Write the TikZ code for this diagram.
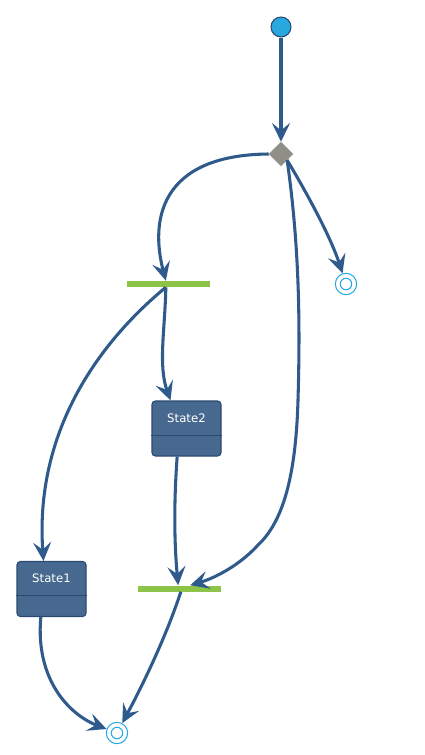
\documentclass[tikz,border=0pt]{standalone}
\usepackage{fontspec}
\setmainfont{DejaVu Sans}
\usepackage{tikz}
\usetikzlibrary{arrows.meta,calc,shapes.geometric}
\definecolor{flow}{HTML}{2F5B8C}
\definecolor{stfill}{HTML}{48698F}
\definecolor{stline}{HTML}{2C4A70}
\definecolor{startc}{HTML}{29A8E0}
\definecolor{choicec}{HTML}{8F8F87}
\definecolor{barc}{HTML}{8DC448}

\begin{document}
\begin{tikzpicture}[x=0.75pt,y=-0.75pt,
  flow/.style={draw=flow,line width=2.3pt,-{Stealth[length=14pt,width=13.5pt,inset=5.5pt]}},
  initst/.style={circle,fill=startc,draw=stline,line width=0.8pt,minimum size=15pt,inner sep=0pt},
  finalst/.style={circle,draw=startc,line width=0.8pt,minimum size=16pt,inner sep=0pt,
     path picture={\draw[startc,line width=0.8pt] (path picture bounding box.center) circle (4.3pt);}},
  choice/.style={diamond,fill=choicec,draw=choicec!80!white,minimum width=18pt,minimum height=18pt,inner sep=0pt},
  forkbar/.style={rectangle,fill=barc,minimum width=62pt,minimum height=4.5pt,inner sep=0pt},
  statebox/.style={rectangle,rounded corners=2.5pt,fill=stfill,draw=stline,line width=0.8pt,
     minimum width=51.75pt,minimum height=41.25pt,inner sep=0pt,text=white,
     font=\fontsize{8.8}{10}\selectfont,text height=7pt,text depth=16.75pt}]
  \useasboundingbox (0,0) rectangle (424,755);
  \node[initst] (init) at (281,27) {};
  \node[choice] (dec) at (281,154) {};
  \node[forkbar] (fork) at (168.5,284) {};
  \node[finalst] (end1) at (346,284) {};
  \node[statebox] (s2) at (186.5,428.5) {State2};
  \node[statebox] (s1) at (51.5,589) {State1};
  \node[forkbar] (join) at (179.5,588.5) {};
  \node[finalst] (end2) at (117,733) {};
  \draw[stline,line width=0.8pt] ($(s2.north west)!0.62!(s2.south west)$)--($(s2.north east)!0.62!(s2.south east)$);
  \draw[stline,line width=0.8pt] ($(s1.north west)!0.62!(s1.south west)$)--($(s1.north east)!0.62!(s1.south east)$);
  \draw[flow] (init)--(dec);
  \draw[flow] (dec.west) .. controls (160,155) and (150,220) .. ([xshift=-2]fork.north);
  \draw[flow] (dec.south east) .. controls (305,190) and (330,235) .. (end1);
  \draw[flow] (dec.south east) .. controls (300,250) and (300,330) .. (298,400)
     .. controls (296,470) and (285,520) .. (258,545) .. controls (240,565) and (215,578) .. ([xshift=8]join.north);
  \draw[flow] ([xshift=-2]fork.south) .. controls (90,350) and (35,440) .. ([xshift=-6]s1.north);
  \draw[flow] ([xshift=-2]fork.south) .. controls (165,330) and (158,365) .. ([xshift=-12]s2.north);
  \draw[flow] ([xshift=-7]s2.south) .. controls (174,500) and (174,540) .. ([xshift=-1]join.north);
  \draw[flow] ([xshift=-8]s1.south) .. controls (35,680) and (70,715) .. (end2);
  \draw[flow] ([xshift=1]join.south) .. controls (165,640) and (140,690) .. (end2);
\end{tikzpicture}
\end{document}
